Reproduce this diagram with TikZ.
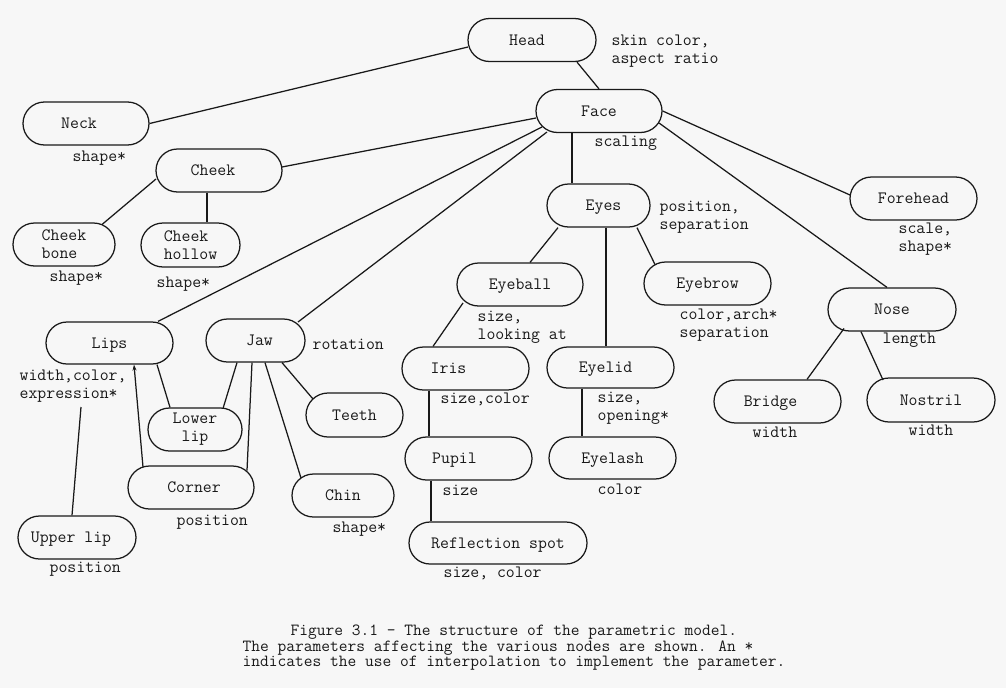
\documentclass[tikz,border=0pt]{standalone}
\usepackage{fontspec}
\usetikzlibrary{shapes.misc,arrows.meta,calc}
\definecolor{paper}{RGB}{247,247,247}
\definecolor{ink}{RGB}{25,25,25}
\newcommand\dg{\ttfamily\fontsize{17.3}{18}\selectfont}
\newcommand\capf{\ttfamily\fontsize{17}{15.5}\selectfont}
\newcommand\lb[1]{\begin{tabular}[t]{@{}l@{}}#1\end{tabular}}
\begin{document}
\begin{tikzpicture}[x=1pt,y=-1pt,line width=1.25pt,draw=ink,text=ink,
  box/.style={draw=ink,rounded rectangle,minimum height=43pt,inner sep=0pt,font=\dg,text height=10.6pt,text depth=0pt},
  boxtwo/.style={draw=ink,rounded rectangle,minimum height=43pt,inner sep=0pt,font=\dg,align=left},
  lab/.style={anchor=base west,inner sep=0pt,font=\dg},
  captxt/.style={anchor=base west,inner sep=0pt,font=\capf,text height=10.5pt,text depth=3.5pt}]
\fill[paper] (0,0) rectangle (1006,688);
\useasboundingbox (0,0) rectangle (1006,688);
% nodes
\node[box,minimum width=128pt] (head) at (532,40) {Head\hspace*{10pt}};
\node[box,minimum width=126pt] (face) at (599,111) {Face};
\node[box,minimum width=126pt] (neck) at (86,123.5) {Neck\hspace*{14pt}};
\node[box,minimum width=126pt] (cheek) at (219,170.5) {Cheek\hspace*{12pt}};
\node[boxtwo,minimum width=102pt] (cbone) at (64,244.5) {Cheek\\bone};
\node[boxtwo,minimum width=99pt,minimum height=44pt] (chollow) at (190.5,245) {Cheek\\hollow};
\node[box,minimum width=103pt] (eyes) at (598.5,205.5) {\hspace*{10pt}Eyes};
\node[box,minimum width=127pt] (forehead) at (913.5,198.5) {Forehead};
\node[box,minimum width=126pt] (eyeball) at (520,284.5) {Eyeball};
\node[box,minimum width=127pt] (eyebrow) at (707.5,283.5) {Eyebrow};
\node[box,minimum width=128pt] (nose) at (892,309.5) {Nose};
\node[box,minimum width=127pt] (bridge) at (777.5,401.5) {Bridge\hspace*{14pt}};
\node[box,minimum width=128pt,minimum height=44pt] (nostril) at (931,400) {Nostril};
\node[box,minimum width=127pt] (iris) at (465.5,368.5) {Iris\hspace*{34pt}};
\node[box,minimum width=127pt] (pupil) at (468.5,458.5) {Pupil\hspace*{28pt}};
\node[box,minimum width=178pt,minimum height=42pt] (refl) at (498,543) {Reflection spot};
\node[box,minimum width=127pt,minimum height=41pt] (eyelid) at (610.5,367.5) {Eyelid\hspace*{10pt}};
\node[box,minimum width=127pt,minimum height=42pt] (eyelash) at (612.5,458) {Eyelash};
\node[box,minimum width=127pt,minimum height=42pt] (lips) at (109.5,343) {Lips};
\node[box,minimum width=99pt] (jaw) at (255.5,340.5) {\hspace*{8pt}Jaw};
\node[boxtwo,minimum width=94pt,align=center] (lower) at (195,429.5) {Lower\\lip};
\node[box,minimum width=126pt] (corner) at (191,487.5) {\hspace*{6pt}Corner};
\node[box,minimum width=97pt,minimum height=44pt] (teeth) at (354.5,415) {Teeth};
\node[box,minimum width=102pt] (chin) at (343,495.5) {Chin};
\node[box,minimum width=118pt] (upper) at (77,537.5) {Upper lip\hspace*{12pt}};
% connectors
\draw (neck.east) -- ($(head)+(-64,7)$);
\draw ($(head.south)+(45,0)$) -- (face.north);
\draw ($(cheek)+(63,-3.5)$) -- ($(face)+(-63,7)$);
\draw ($(lips.north)+(48.5,0)$) -- ($(face)+(-57,16)$);
\draw ($(jaw)+(42.5,-18.5)$) -- ($(face)+(-52,21)$);
\draw ($(face.south)+(-27,0)$) -- ($(eyes.north)+(-26.5,0)$);
\draw (face.east) -- ($(forehead)+(-63.5,-3.5)$);
\draw ($(face)+(60,12)$) -- ($(nose.north)+(-5,0)$);
\draw ($(cheek)+(-63,8.5)$) -- ($(cbone)+(38,-20)$);
\draw ($(cheek.south)+(-12,0)$) -- ($(chollow.north)+(16.5,0)$);
\draw ($(eyes.south)+(-40.5,0)$) -- ($(eyeball.north)+(10,0)$);
\draw ($(eyes.south)+(38.5,0)$) -- ($(eyebrow)+(-52.5,-19)$);
\draw ($(eyes.south)+(7.5,0)$) -- ($(eyelid.north)+(-4.5,0)$);
\draw ($(eyeball)+(-57,18.5)$) -- ($(iris.north)+(-32.5,0)$);
\draw ($(iris.south)+(-36.5,0)$) -- ($(pupil.north)+(-39.5,0)$);
\draw ($(pupil.south)+(-37.5,0)$) -- ($(refl.north)+(-67,0)$);
\draw ($(eyelid.south)+(-28.5,0)$) -- ($(eyelash.north)+(-30.5,0)$);
\draw ($(nose)+(-48,19)$) -- ($(bridge.north)+(29.5,0)$);
\draw ($(nose.south)+(-31,0)$) -- ($(nostril)+(-48,-20)$);
\draw ($(lips.south)+(47.5,0)$) -- ($(lower.north)+(-25,0)$);
\draw ($(jaw.south)+(-18.5,0)$) -- ($(lower)+(28,-21)$);
\draw ($(jaw.south)+(-3.5,0)$) -- ($(corner)+(56,-17)$);
\draw[-{Stealth[length=6pt,width=4pt]}] ($(corner)+(-48,-20.5)$) -- ($(lips.south)+(24.5,0)$);
\draw ($(jaw.south)+(26.5,0)$) -- ($(teeth)+(-41.5,-16)$);
\draw ($(jaw.south)+(9.5,0)$) -- ($(chin)+(-42,-17.5)$);
\coordinate (ulend) at (81,407);
\draw ($(upper.north)+(-5,0)$) -- (ulend);
% parameter labels
\node[lab] (headp) at (611,45) {\lb{skin color,\\aspect ratio}};
\node[lab] (facep) at (594,146) {scaling};
\node[lab] (neckp) at (72,161) {shape*};
\node[lab] (cbonep) at (49,281) {shape*};
\node[lab] (chollowp) at (156,287) {shape*};
\node[lab] (eyesp) at (659,211) {\lb{position,\\separation}};
\node[lab] (foreheadp) at (898,233) {\lb{scale,\\shape*}};
\node[lab] (eyeballp) at (477,321) {\lb{size,\\looking at}};
\node[lab] (eyebrowp) at (679,319) {\lb{color,arch*\\separation}};
\node[lab] (nosep) at (882,343) {length};
\node[lab] (bridgep) at (752,437) {width};
\node[lab] (nostrilp) at (908,435) {width};
\node[lab] (irisp) at (440,403) {size,color};
\node[lab] (eyelidp) at (597,402) {\lb{size,\\opening*}};
\node[lab] (pupilp) at (442,495) {size};
\node[lab] (eyelashp) at (597,494) {color};
\node[lab] (reflp) at (443,577) {size, color};
\node[lab] (lipsp) at (19,380) {\lb{width,color,\\expression*}};
\node[lab] (jawp) at (312,349) {rotation};
\node[lab] (cornerp) at (176,525) {position};
\node[lab] (chinp) at (332,532) {shape*};
\node[lab] (upperp) at (49,572) {position};
% caption
\node[captxt] (capa) at (290,635) {Figure 3.1 - The structure of the parametric model.};
\node[captxt] (capb) at (242,651) {The parameters affecting the various nodes are shown. An *};
\node[captxt] (capc) at (242,666) {indicates the use of interpolation to implement the parameter.};
\end{tikzpicture}
\end{document}
